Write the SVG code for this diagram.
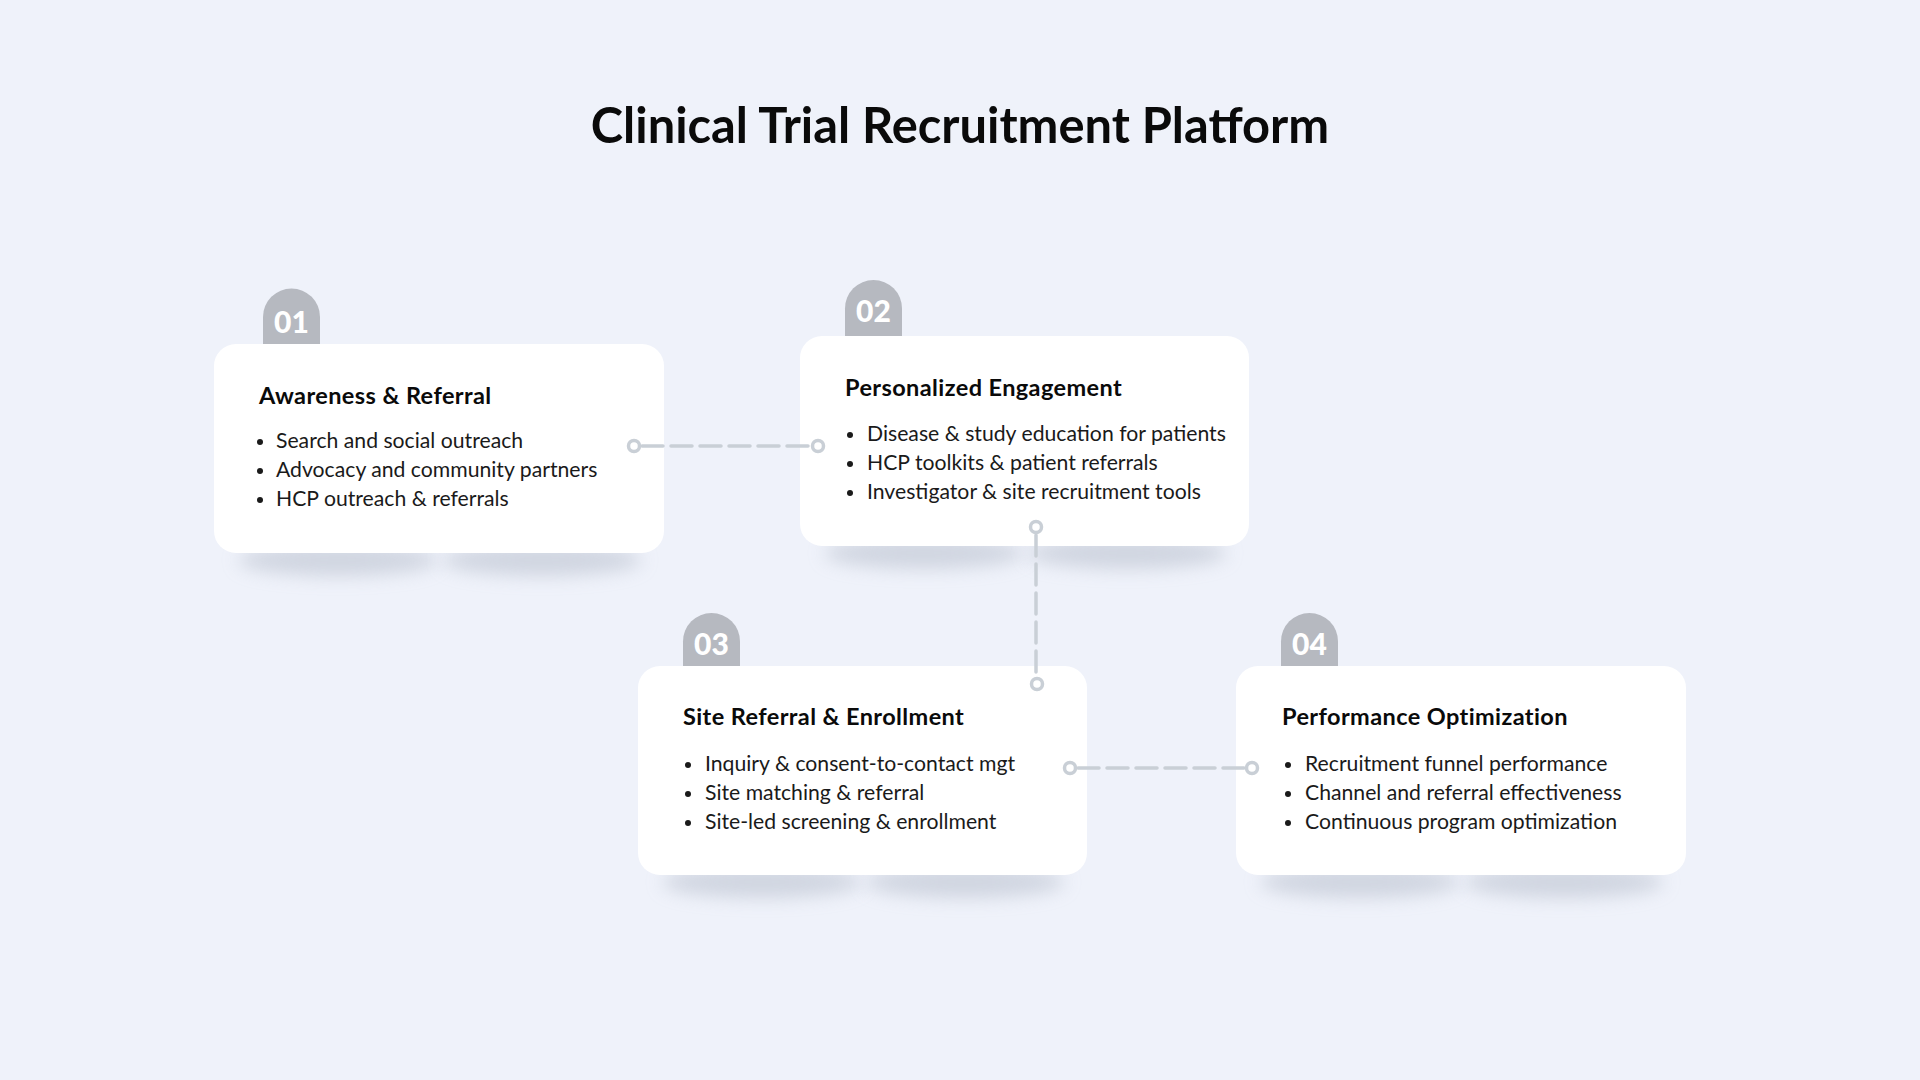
<svg xmlns="http://www.w3.org/2000/svg" width="1920" height="1080" viewBox="0 0 1920 1080">
  <style>
    .bg { fill: #eff2fa; }
    .card { fill: #ffffff; }
    .tab { fill: #b6b9c0; }
    .num { font-family: Lato, "Liberation Sans", sans-serif; font-weight: 900; font-size: 30px; fill: #ffffff; text-anchor: middle; }
    .title { font-family: Lato, "Liberation Sans", sans-serif; font-weight: 700; font-size: 48.8px; fill: #0a0a0a; text-anchor: middle; }
    .head { font-family: Lato, "Liberation Sans", sans-serif; font-weight: 700; font-size: 23.5px; letter-spacing: 0.4px; fill: #0a0a0a; }
    .item { font-family: Lato, "Liberation Sans", sans-serif; font-size: 21.2px; fill: #1a1a1a; }
    .dot { fill: #1a1a1a; }
    .shadow { fill: #c3c9d6; opacity: 0.7; filter: url(#blur); }
    .conn { fill: none; stroke: #c9cfd6; stroke-width: 3.5; stroke-dasharray: 21 8; stroke-linecap: round; }
    .end { fill: #ffffff; stroke: #c9cfd6; stroke-width: 3.5; }
  </style>
  <defs>
    <filter id="blur" x="-30%" y="-100%" width="160%" height="300%">
      <feGaussianBlur stdDeviation="9"/>
    </filter>
  </defs>
  <rect class="bg" x="0" y="0" width="1920" height="1080"/>

  <text class="title" x="960" y="143">Clinical Trial Recruitment Platform</text>

  <g id="node-01">
    <ellipse class="shadow" cx="338" cy="560" rx="100" ry="16"/>
    <ellipse class="shadow" cx="542" cy="560" rx="100" ry="16"/>
    <path class="tab" d="M263,350 V317 A28.5,28.5 0 0 1 320,317 V350 Z"/>
    <text class="num" x="291.5" y="333">01</text>
    <rect class="card" x="214" y="344" width="450" height="209" rx="22"/>
    <text class="head" x="259" y="404">Awareness &amp; Referral</text>
    <circle class="dot" cx="260" cy="442" r="3"/>
    <text class="item" x="276" y="448">Search and social outreach</text>
    <circle class="dot" cx="260" cy="471" r="3"/>
    <text class="item" x="276" y="477">Advocacy and community partners</text>
    <circle class="dot" cx="260" cy="500" r="3"/>
    <text class="item" x="276" y="506">HCP outreach &amp; referrals</text>
  </g>

  <g id="node-02">
    <ellipse class="shadow" cx="924" cy="553" rx="100" ry="16"/>
    <ellipse class="shadow" cx="1127" cy="553" rx="100" ry="16"/>
    <path class="tab" d="M845,342 V308.5 A28.5,28.5 0 0 1 902,308.5 V342 Z"/>
    <text class="num" x="873.5" y="322">02</text>
    <rect class="card" x="800" y="336" width="449" height="210" rx="22"/>
    <text class="head" x="845" y="396">Personalized Engagement</text>
    <circle class="dot" cx="850" cy="435" r="3"/>
    <text class="item" x="867" y="441">Disease &amp; study education for patients</text>
    <circle class="dot" cx="850" cy="464" r="3"/>
    <text class="item" x="867" y="470">HCP toolkits &amp; patient referrals</text>
    <circle class="dot" cx="850" cy="493" r="3"/>
    <text class="item" x="867" y="499">Investigator &amp; site recruitment tools</text>
  </g>

  <g id="node-03">
    <ellipse class="shadow" cx="762" cy="882" rx="100" ry="16"/>
    <ellipse class="shadow" cx="965" cy="882" rx="100" ry="16"/>
    <path class="tab" d="M683,672 V641.5 A28.5,28.5 0 0 1 740,641.5 V672 Z"/>
    <text class="num" x="711.5" y="655">03</text>
    <rect class="card" x="638" y="666" width="449" height="209" rx="22"/>
    <text class="head" x="683" y="725">Site Referral &amp; Enrollment</text>
    <circle class="dot" cx="688" cy="765" r="3"/>
    <text class="item" x="705" y="771">Inquiry &amp; consent-to-contact mgt</text>
    <circle class="dot" cx="688" cy="794" r="3"/>
    <text class="item" x="705" y="800">Site matching &amp; referral</text>
    <circle class="dot" cx="688" cy="823" r="3"/>
    <text class="item" x="705" y="829">Site-led screening &amp; enrollment</text>
  </g>

  <g id="node-04">
    <ellipse class="shadow" cx="1360" cy="882" rx="100" ry="16"/>
    <ellipse class="shadow" cx="1564" cy="882" rx="100" ry="16"/>
    <path class="tab" d="M1281,672 V641.5 A28.5,28.5 0 0 1 1338,641.5 V672 Z"/>
    <text class="num" x="1309.5" y="655">04</text>
    <rect class="card" x="1236" y="666" width="450" height="209" rx="22"/>
    <text class="head" x="1282" y="725">Performance Optimization</text>
    <circle class="dot" cx="1288" cy="765" r="3"/>
    <text class="item" x="1305" y="771">Recruitment funnel performance</text>
    <circle class="dot" cx="1288" cy="794" r="3"/>
    <text class="item" x="1305" y="800">Channel and referral effectiveness</text>
    <circle class="dot" cx="1288" cy="823" r="3"/>
    <text class="item" x="1305" y="829">Continuous program optimization</text>
  </g>

  <g id="connectors">
    <line class="conn" x1="642" y1="446" x2="810" y2="446"/>
    <circle class="end" cx="634" cy="446" r="5.5"/>
    <circle class="end" cx="818" cy="446" r="5.5"/>
    <line class="conn" x1="1036" y1="535" x2="1036" y2="676"/>
    <circle class="end" cx="1036" cy="527" r="5.5"/>
    <circle class="end" cx="1037" cy="684" r="5.5"/>
    <line class="conn" x1="1078" y1="768" x2="1244" y2="768"/>
    <circle class="end" cx="1070" cy="768" r="5.5"/>
    <circle class="end" cx="1252" cy="768" r="5.5"/>
  </g>
</svg>
